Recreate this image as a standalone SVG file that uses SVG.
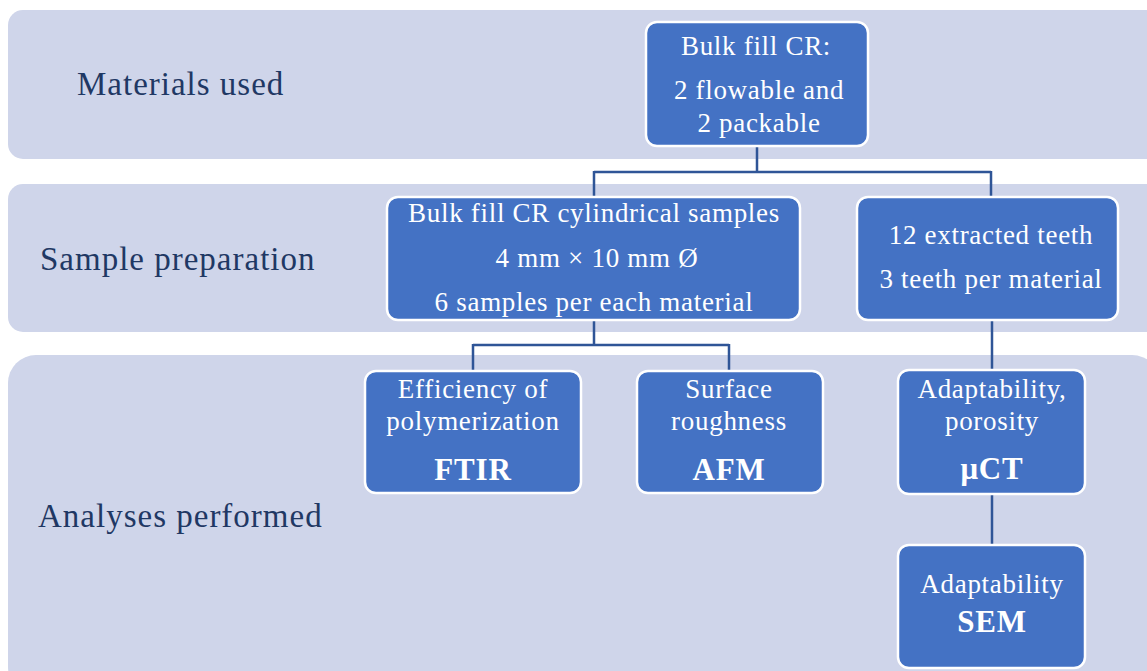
<svg xmlns="http://www.w3.org/2000/svg" width="1147" height="671" viewBox="0 0 1147 671">
<style>
.band{fill:#CFD5EA}
.lbl{font-family:"Liberation Serif","Times New Roman",serif;font-size:33px;letter-spacing:1px;fill:#1F3864}
.node rect{fill:#4472C4;stroke:#FFFFFF;stroke-width:2.5}
.node text{font-family:"Liberation Serif","Times New Roman",serif;font-size:27px;letter-spacing:0.7px;fill:#FFFFFF;text-anchor:middle}
.node text.b{font-weight:bold;font-size:31px;letter-spacing:0.8px}
.conn{fill:none;stroke:#2F5597;stroke-width:2.5}
</style>
<g id="bands">
<rect class="band" x="8" y="10" width="1170" height="149" rx="15"/>
<rect class="band" x="8" y="184" width="1170" height="148" rx="15"/>
<rect class="band" x="8" y="355" width="1152" height="340" rx="28"/>
<text class="lbl" x="77" y="95">Materials used</text>
<text class="lbl" x="40" y="270">Sample preparation</text>
<text class="lbl" x="38" y="527">Analyses performed</text>
</g>
<g id="connectors">
<path class="conn" d="M757 146 V172 M594 172 H991 M594 171 V197 M991 171 V197"/>
<path class="conn" d="M594 320 V345 M473 345 H729 M473 344 V371 M729 344 V371"/>
<path class="conn" d="M992 320 V370"/>
<path class="conn" d="M992 494 V545"/>
</g>
<g id="n1" class="node">
<rect x="646" y="22" width="222" height="124" rx="11"/>
<text x="756" y="55">Bulk fill CR:</text>
<text x="759" y="99">2 flowable and</text>
<text x="759" y="132">2 packable</text>
</g>
<g id="n2" class="node">
<rect x="387" y="197" width="413" height="123" rx="11"/>
<text x="594" y="222">Bulk fill CR cylindrical samples</text>
<text x="597" y="267">4 mm × 10 mm Ø</text>
<text x="594" y="311">6 samples per each material</text>
</g>
<g id="n3" class="node">
<rect x="857" y="197" width="261" height="123" rx="11"/>
<text x="991" y="244">12 extracted teeth</text>
<text x="991" y="288">3 teeth per material</text>
</g>
<g id="n4" class="node">
<rect x="365" y="371" width="216" height="122" rx="11"/>
<text x="473" y="398">Efficiency of</text>
<text x="473" y="430">polymerization</text>
<text class="b" x="473" y="480">FTIR</text>
</g>
<g id="n5" class="node">
<rect x="637" y="371" width="186" height="122" rx="11"/>
<text x="729" y="398">Surface</text>
<text x="729" y="430">roughness</text>
<text class="b" x="729" y="480">AFM</text>
</g>
<g id="n6" class="node">
<rect x="898" y="370" width="187" height="124" rx="11"/>
<text x="992" y="398">Adaptability,</text>
<text x="992" y="430">porosity</text>
<text class="b" x="992" y="479">μCT</text>
</g>
<g id="n7" class="node">
<rect x="898" y="545" width="187" height="123" rx="11"/>
<text x="992" y="593">Adaptability</text>
<text class="b" x="992" y="632">SEM</text>
</g>
</svg>
